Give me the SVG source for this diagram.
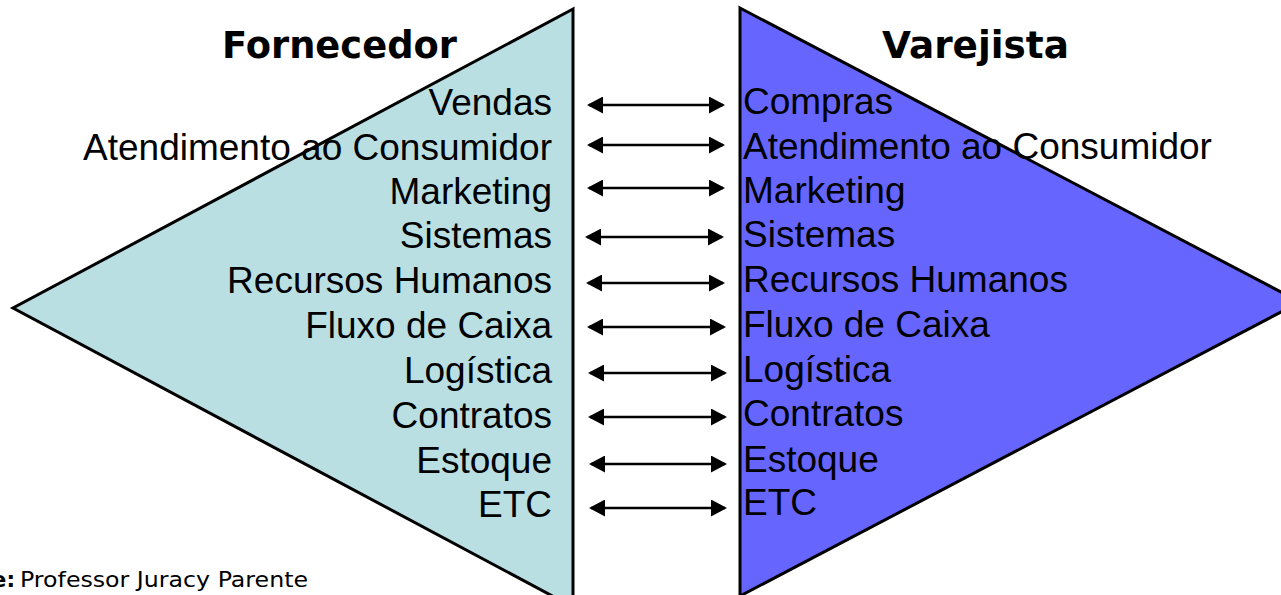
<svg xmlns="http://www.w3.org/2000/svg" width="1281" height="595" viewBox="0 0 1281 595">
<style>
.tri{stroke:#000;stroke-width:3;stroke-linejoin:miter}
.title{font-family:"DejaVu Sans",sans-serif;font-weight:bold;font-size:37px;fill:#000}
.item{font-family:"Liberation Sans",Arial,sans-serif;font-size:37px;fill:#000}
.l{text-anchor:end}
.conn line{stroke:#000;stroke-width:2.6;marker-start:url(#ah);marker-end:url(#ah)}
.src{font-family:"DejaVu Sans",sans-serif;font-size:21.5px;fill:#000}
</style>
<defs>
<marker id="ah" markerUnits="userSpaceOnUse" markerWidth="16" markerHeight="17" refX="14" refY="8.5" orient="auto-start-reverse" viewBox="0 0 16 17">
<path d="M0,0 L16,8.5 L0,17 Z" fill="#000"/>
</marker>
</defs>
<rect width="1281" height="595" fill="#fff"/>
<g id="fornecedor">
<polygon class="tri" points="573,9 13,308 573,607" fill="#BADFE2"/>
<text class="title" x="222" y="58" textLength="235" lengthAdjust="spacingAndGlyphs">Fornecedor</text>
<text class="item l" x="552" y="115">Vendas</text>
<text class="item l" x="552" y="160">Atendimento ao Consumidor</text>
<text class="item l" x="552" y="204">Marketing</text>
<text class="item l" x="552" y="248">Sistemas</text>
<text class="item l" x="552" y="293">Recursos Humanos</text>
<text class="item l" x="552" y="338">Fluxo de Caixa</text>
<text class="item l" x="552" y="383">Logística</text>
<text class="item l" x="552" y="428">Contratos</text>
<text class="item l" x="552" y="473">Estoque</text>
<text class="item l" x="552" y="517">ETC</text>
</g>
<g id="varejista">
<polygon class="tri" points="740,8 1300,302 740,596" fill="#6666FF"/>
<text class="title" x="882" y="58" textLength="187" lengthAdjust="spacingAndGlyphs">Varejista</text>
<text class="item" x="743" y="114">Compras</text>
<text class="item" x="743" y="159">Atendimento ao Consumidor</text>
<text class="item" x="743" y="203">Marketing</text>
<text class="item" x="743" y="247">Sistemas</text>
<text class="item" x="743" y="292">Recursos Humanos</text>
<text class="item" x="743" y="337">Fluxo de Caixa</text>
<text class="item" x="743" y="382">Logística</text>
<text class="item" x="743" y="426">Contratos</text>
<text class="item" x="743" y="472">Estoque</text>
<text class="item" x="743" y="515">ETC</text>
</g>
<g id="connectors" class="conn">
<line x1="589" y1="105" x2="723" y2="105"/>
<line x1="589" y1="145" x2="723" y2="145"/>
<line x1="589" y1="188" x2="723" y2="188"/>
<line x1="587" y1="237" x2="722" y2="237"/>
<line x1="588" y1="283" x2="723" y2="283"/>
<line x1="589" y1="327" x2="724" y2="327"/>
<line x1="590" y1="373" x2="725" y2="373"/>
<line x1="590" y1="417" x2="725" y2="417"/>
<line x1="591" y1="464" x2="725" y2="464"/>
<line x1="591" y1="508" x2="725" y2="508"/>
</g>
<g id="source">
<text class="src" x="15" y="587" text-anchor="end" font-weight="bold">e:</text>
<text class="src" x="20" y="587" textLength="288" lengthAdjust="spacingAndGlyphs">Professor Juracy Parente</text>
</g>
</svg>
